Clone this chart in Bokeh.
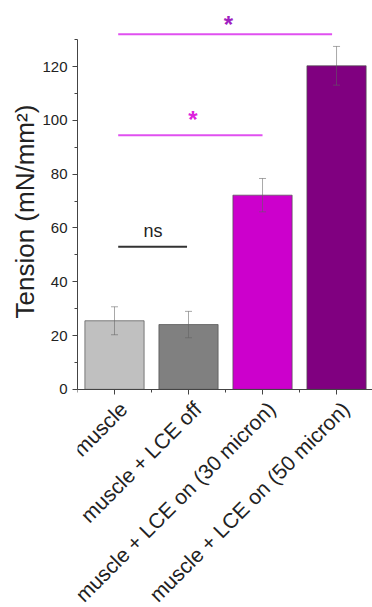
import math
from bokeh.plotting import figure
from bokeh.models import (ColumnDataSource, Whisker, TeeHead, FixedTicker,
                          SingleIntervalTicker, Range1d, Title,
                          CustomLabelingPolicy)
from bokeh.core.properties import value
from bokeh.embed import file_html
from bokeh.resources import INLINE

# ---- data ----
categories = ["muscle", "muscle + LCE off",
              "muscle + LCE on (30 micron)", "muscle + LCE on (50 micron)"]
positions = [1, 2, 3, 4]
tension = [25.5, 24.1, 72.2, 120.3]
error = [5.2, 4.9, 6.2, 7.2]
bar_colors = ["#c0c0c0", "#808080", "#cc00cc", "#800080"]

# significance brackets (data coords)
sig_x0 = [1.05, 1.05, 1.05]
sig_x1 = [1.98, 3.0, 3.94]
sig_y = [53, 94.5, 132]
sig_colors = ["#333333", "#e050f0", "#e050f0"]
sig_text = ["ns", "*", "*"]
sig_text_x = [1.52, 2.06, 2.54]
sig_text_y = [59, 100.2, 135.8]
sig_text_colors = ["#222222", "#dd22dd", "#a020c0"]
sig_text_size = ["18px", "24px", "24px"]
sig_text_style = ["normal", "bold", "bold"]

FONT = "Liberation Sans"

# frame extends below zero so that the rotated category labels fit inside it
p = figure(width=372, height=607, output_backend="svg", toolbar_location=None,
           x_range=Range1d(0.5, 4.486), y_range=Range1d(-81.1, 141.6),
           min_border_left=77, min_border_right=0, min_border_top=8,
           min_border_bottom=0)
p.outline_line_color = None
p.grid.visible = False
p.background_fill_color = "white"

src = ColumnDataSource(dict(x=positions, top=tension, color=bar_colors,
                            upper=[t + e for t, e in zip(tension, error)],
                            lower=[t - e for t, e in zip(tension, error)]))
p.vbar(x="x", top="top", width=0.8, fill_color="color", source=src,
       line_color="#505050", line_alpha=0.7, line_width=1)

eb_color = "#606060"
p.add_layout(Whisker(source=src, base="x", upper="upper", lower="lower",
                     line_color=eb_color, line_alpha=0.55, line_width=1,
                     level="annotation",
                     upper_head=TeeHead(size=7, line_color=eb_color, line_alpha=0.55),
                     lower_head=TeeHead(size=7, line_color=eb_color, line_alpha=0.55)))

p.segment(x0=sig_x0, y0=sig_y, x1=sig_x1, y1=sig_y, line_color=sig_colors,
          line_width=2)
tsrc = ColumnDataSource(dict(x=sig_text_x, y=sig_text_y, t=sig_text,
                             c=sig_text_colors, s=sig_text_size, fs=sig_text_style))
p.text(x="x", y="y", text="t", text_color="c", text_font_size="s",
       text_font_style="fs", text_font=value(FONT), text_align="center",
       text_baseline="alphabetic", source=tsrc)

# category labels, rotated 45 degrees, ending at each tick
lsrc = ColumnDataSource(dict(x=positions, y=[0] * len(positions), t=categories))
p.text(x="x", y="y", text="t", source=lsrc, angle=math.pi / 4,
       text_align="right", text_baseline="middle", x_offset=9, y_offset=16,
       text_font=value(FONT), text_font_size="21px", text_color="#222222")

# x axis fixed at y = 0 (its own labels are replaced by the rotated ones)
xa = p.xaxis[0]
xa.fixed_location = 0
xa.ticker = FixedTicker(ticks=positions, minor_ticks=[0.5, 1.5, 2.5, 3.5, 4.5])
xa.major_label_policy = CustomLabelingPolicy(code="return new Set()")
xa.major_label_standoff = 0
xa.bounds = (0.5, 4.486)

# y axis
ya = p.yaxis[0]
ya.ticker = SingleIntervalTicker(interval=20, num_minor_ticks=2)
ya.bounds = (0, 130)
ya.major_label_text_font = FONT
ya.major_label_text_font_size = "15px"
ya.major_label_text_color = "#222222"

# y axis title, placed along the 0..130 part of the axis
p.add_layout(Title(text="Tension (mN/mm²)", align="left", offset=289,
                   text_font=FONT, text_font_size="26px",
                   text_font_style="normal", text_color="#222222",
                   standoff=0), "left")

for ax in (xa, ya):
    ax.axis_line_color = "#444444"
    ax.major_tick_line_color = "#444444"
    ax.minor_tick_line_color = "#444444"
    ax.major_tick_out = 5
    ax.major_tick_in = 0
    ax.minor_tick_out = 3
    ax.minor_tick_in = 0

open("out.html", "w").write(file_html(p, INLINE))
